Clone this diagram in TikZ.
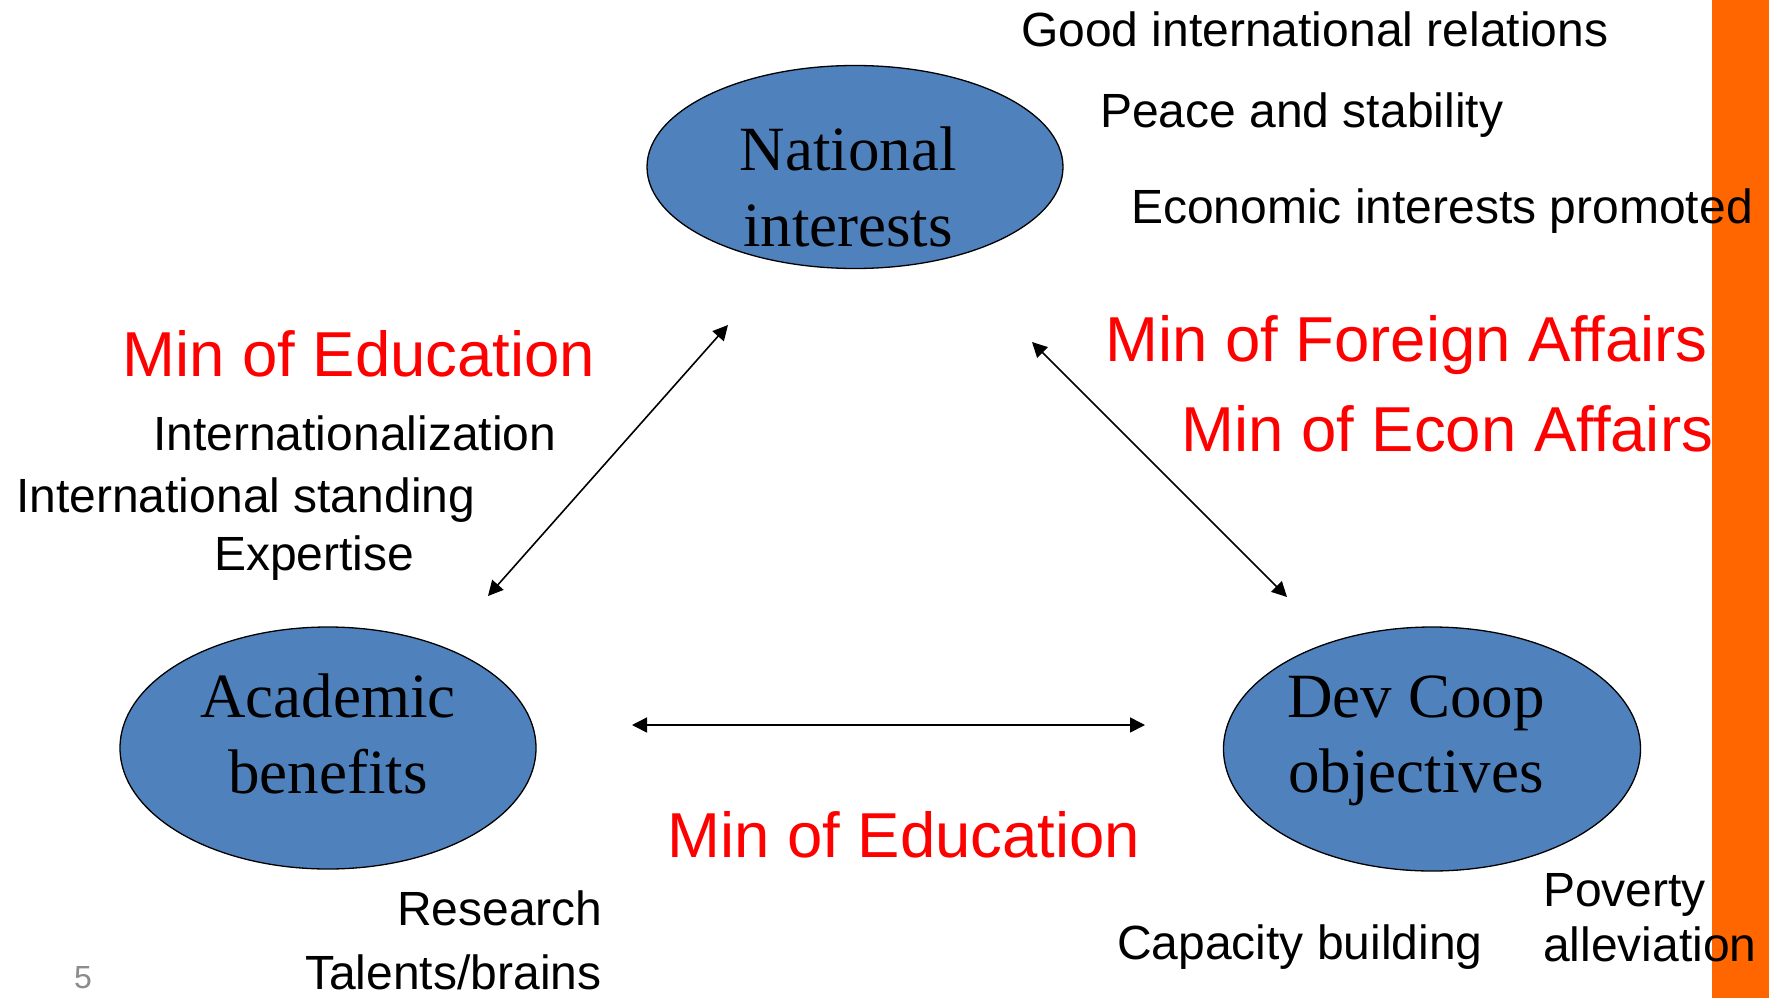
\documentclass[tikz,border=0pt]{standalone}
\usepackage{fontspec}
\setmainfont{Liberation Sans}
\newfontfamily\ovalfont{Liberation Serif}
\usetikzlibrary{arrows.meta,shapes.geometric}
\definecolor{ovalblue}{HTML}{4F81BD}
\definecolor{barorange}{HTML}{FF6600}
\definecolor{pagegray}{HTML}{8C8C8C}
\begin{document}
\begin{tikzpicture}[x=1pt,y=-1pt,
  oval/.style={ellipse, draw=black, line width=1.3pt, fill=ovalblue, inner sep=0pt},
  ovaltext/.style={font=\ovalfont\fontsize{63}{75.6}\selectfont, align=center, inner sep=0pt},
  note/.style={font=\fontsize{48}{56}\selectfont, anchor=base west, inner sep=0pt},
  ministry/.style={font=\fontsize{63.5}{75}\selectfont, text=red, anchor=base west, inner sep=0pt},
  link/.style={{Triangle[length=15pt,width=15pt]}-{Triangle[length=15pt,width=15pt]}, line width=1.6pt}
]
\useasboundingbox (0,0) rectangle (1769,998);
\fill[white] (0,0) rectangle (1769,998);

% side bar
\fill[barorange] (1712,0) rectangle (1769,998);

% the three goals
\node[oval, minimum width=416pt, minimum height=203pt] (nat) at (855,167) {};
\node[oval, minimum width=416pt, minimum height=242pt] (acad) at (328,748) {};
\node[oval, minimum width=417pt, minimum height=244pt] (dev) at (1432,749) {};

\node[ovaltext] (natlbl) at (848,187) {National\\interests};
\node[ovaltext] (acadlbl) at (328,734) {Academic\\benefits};
\node[ovaltext] (devlbl) at (1416,741) {Dev Coop\\objectives};

% connections
\coordinate (an) at (728,325);
\coordinate (aa) at (488,596);
\coordinate (bn) at (1032,342);
\coordinate (bd) at (1287,597);
\coordinate (ca) at (632,725);
\coordinate (cd) at (1145,725);
\draw[link] (aa) -- (an);
\draw[link] (bn) -- (bd);
\draw[link] (ca) -- (cd);

% national interests
\node[note] (n1) at (1021,47) {Good international relations};
\node[note] (n2) at (1100,127) {Peace and stability};
\node[note] (n3) at (1131,223) {Economic interests promoted};
\node[ministry] (m1) at (1105,361) {Min of Foreign Affairs};
\node[ministry] (m2) at (1181,451) {Min of Econ Affairs};

% academic benefits
\node[ministry] (m3) at (122,376) {Min of Education};
\node[note] (n4) at (153,450) {Internationalization};
\node[note] (n5) at (16,512) {International standing};
\node[note] (n6) at (214,570) {Expertise};
\node[note] (n7) at (397,925) {Research};
\node[note] (n8) at (305,989) {Talents/brains};

% development cooperation
\node[ministry] (m4) at (667,857) {Min of Education};
\node[note] (n9) at (1117,959) {Capacity building};
\node[note] (n10) at (1543,906) {Poverty};
\node[note] (n11) at (1543,961) {alleviation};

% page number
\node[font=\fontsize{32}{38}\selectfont, text=pagegray, anchor=base west, inner sep=0pt] (pg) at (74,988) {5};
\end{tikzpicture}
\end{document}
